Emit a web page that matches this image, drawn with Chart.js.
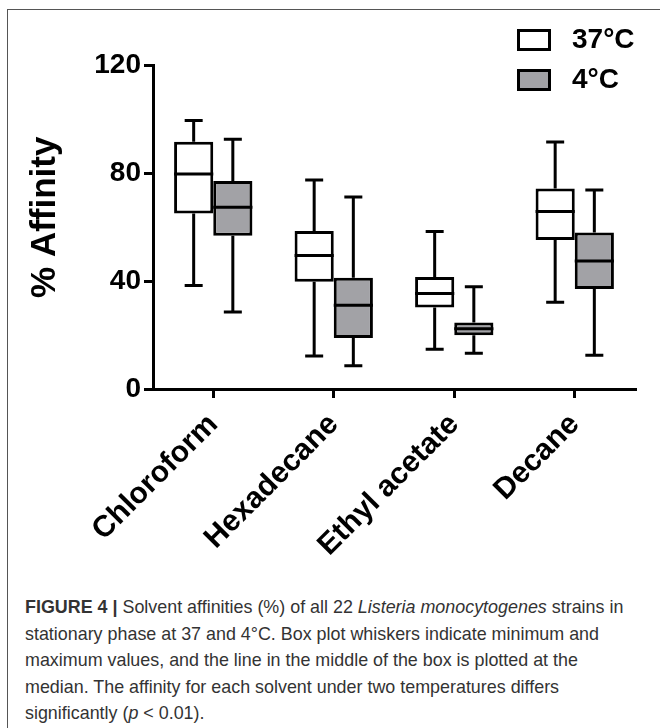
<!DOCTYPE html>
<html>
<head>
<meta charset="utf-8">
<script src="https://cdn.jsdelivr.net/npm/chart.js@4.4.1/dist/chart.umd.min.js"></script>
<style>
  html, body { margin: 0; padding: 0; background: #fff; }
  #page { position: relative; width: 660px; height: 728px; overflow: hidden; }
  #frame { position: absolute; left: 7px; top: 9px; width: 700px; height: 800px;
           border-left: 1.5px solid #555; border-top: 1.5px solid #555; }
  #wrap { position: absolute; left: 0; top: 0; width: 660px; height: 580px; }
  #legend { position: absolute; left: 517px; top: 29px; font: bold 28px "Liberation Sans", Arial, sans-serif; }
  .item { position: relative; height: 40px; }
  .swatch { position: absolute; left: 0; top: 0; width: 34px; height: 22px; box-sizing: border-box; border: 3px solid #000; }
  .label { position: absolute; left: 55px; top: -6px; line-height: 32px; white-space: nowrap; }
  #caption { position: absolute; left: 25px; top: 594px; width: 635px; color: #333;
             font: 17.9px/26.5px "Liberation Sans", Arial, sans-serif; white-space: nowrap; }
</style>
</head>
<body>
<div id="page">
  <div id="frame"></div>
  <div id="wrap"><canvas id="chart1" width="660" height="580"></canvas></div>
  <div id="legend"></div>
  <div id="caption">
    <b>FIGURE 4 |</b> Solvent affinities (%) of all 22 <i>Listeria monocytogenes</i> strains in<br>
    stationary phase at 37 and 4°C. Box plot whiskers indicate minimum and<br>
    maximum values, and the line in the middle of the box is plotted at the<br>
    median. The affinity for each solvent under two temperatures differs<br>
    significantly (<i>p</i> &lt; 0.01).
  </div>
</div>
<script>
var solvents = ['Chloroform', 'Hexadecane', 'Ethyl acetate', 'Decane'];
var seriesNames = ['37°C', '4°C'];
var seriesFill = ['#ffffff', '#a2a2a6'];

// box plot stats (% affinity)
var min37 = [38.3, 12.2, 14.7, 32.1];
var q1_37 = [65.0, 39.7, 30.2, 55.2];
var med37 = [79.6, 49.4, 35.4, 65.7];
var q3_37 = [91.6, 58.5, 41.5, 74.3];
var max37 = [99.4, 77.4, 58.3, 91.5];

var min4 = [28.5, 8.6, 13.2, 12.5];
var q1_4 = [56.8, 18.9, 19.9, 37.0];
var med4 = [67.3, 31.0, 22.3, 47.4];
var q3_4 = [77.0, 41.2, 24.6, 58.0];
var max4 = [92.5, 71.1, 37.9, 73.7];

var yTicks = [0, 40, 80, 120];

var FONT = '"Liberation Sans", Arial, sans-serif';
var LINE = 3;
var CAP = 9;

var stats = [
  {min: min37, q1: q1_37, med: med37, q3: q3_37, max: max37},
  {min: min4, q1: q1_4, med: med4, q3: q3_4, max: max4}
];

function boxes(s) {
  return s.q1.map(function (v, i) { return [v, s.q3[i]]; });
}

// medians and whiskers on top of the floating bars
var whiskers = {
  id: 'whiskers',
  afterDatasetsDraw: function (chart) {
    var ctx = chart.ctx;
    var y = chart.scales.y;
    ctx.save();
    ctx.strokeStyle = '#000';
    ctx.lineWidth = LINE;
    ctx.lineCap = 'butt';
    stats.forEach(function (s, d) {
      chart.getDatasetMeta(d).data.forEach(function (bar, i) {
        var half = bar.width / 2;
        var x = bar.x;
        ctx.beginPath();
        ctx.moveTo(x - half, y.getPixelForValue(s.med[i]));
        ctx.lineTo(x + half, y.getPixelForValue(s.med[i]));
        // upper whisker
        ctx.moveTo(x, y.getPixelForValue(s.q3[i]));
        ctx.lineTo(x, y.getPixelForValue(s.max[i]));
        ctx.moveTo(x - CAP, y.getPixelForValue(s.max[i]));
        ctx.lineTo(x + CAP, y.getPixelForValue(s.max[i]));
        // lower whisker
        ctx.moveTo(x, y.getPixelForValue(s.q1[i]));
        ctx.lineTo(x, y.getPixelForValue(s.min[i]));
        ctx.moveTo(x - CAP, y.getPixelForValue(s.min[i]));
        ctx.lineTo(x + CAP, y.getPixelForValue(s.min[i]));
        ctx.stroke();
      });
    });
    ctx.restore();
  }
};

var chart = new Chart(document.getElementById('chart1'), {
  type: 'bar',
  data: {
    labels: solvents,
    datasets: stats.map(function (s, d) {
      return {
        label: seriesNames[d],
        data: boxes(s),
        backgroundColor: seriesFill[d],
        borderColor: '#000',
        borderWidth: LINE,
        borderSkipped: false,
        categoryPercentage: 0.65,
        barPercentage: 1.0
      };
    })
  },
  options: {
    responsive: false,
    animation: false,
    devicePixelRatio: 1,
    layout: { padding: { left: 0, top: 65, right: 25, bottom: 0 } },
    plugins: { legend: { display: false }, tooltip: { enabled: false } },
    scales: {
      x: {
        grid: { display: true, drawOnChartArea: false, drawTicks: true, offset: false,
                tickLength: 9, lineWidth: LINE, color: '#000' },
        border: { display: true, width: LINE, color: '#000' },
        ticks: { color: '#000', font: { family: FONT, size: 30, weight: 'bold' },
                 maxRotation: 45, minRotation: 45, padding: 9 },
        afterFit: function (scale) { scale.height = 580 - 389; }
      },
      y: {
        min: 0,
        max: 120,
        afterBuildTicks: function (scale) {
          scale.ticks = yTicks.map(function (v) { return {value: v}; });
        },
        grid: { display: true, drawOnChartArea: false, drawTicks: true,
                tickLength: 9, lineWidth: LINE, color: '#000' },
        border: { display: true, width: LINE, color: '#000' },
        ticks: { color: '#000', font: { family: FONT, size: 28, weight: 'bold' }, padding: 3 },
        title: { display: true, text: '\u00a0\u00a0% Affinity', color: '#000',
                 font: { family: FONT, size: 35, weight: 'bold' },
                 padding: { top: 24, bottom: 0 } },
        afterFit: function (scale) { scale.width = 153; }
      }
    }
  },
  plugins: [whiskers]
});

// legend built from the datasets
var legend = document.getElementById('legend');
chart.data.datasets.forEach(function (ds) {
  var item = document.createElement('div');
  item.className = 'item';
  item.innerHTML = '<div class="swatch" style="background:' + ds.backgroundColor + '"></div>' +
    '<div class="label">' + ds.label + '</div>';
  legend.appendChild(item);
});
</script>
</body>
</html>
